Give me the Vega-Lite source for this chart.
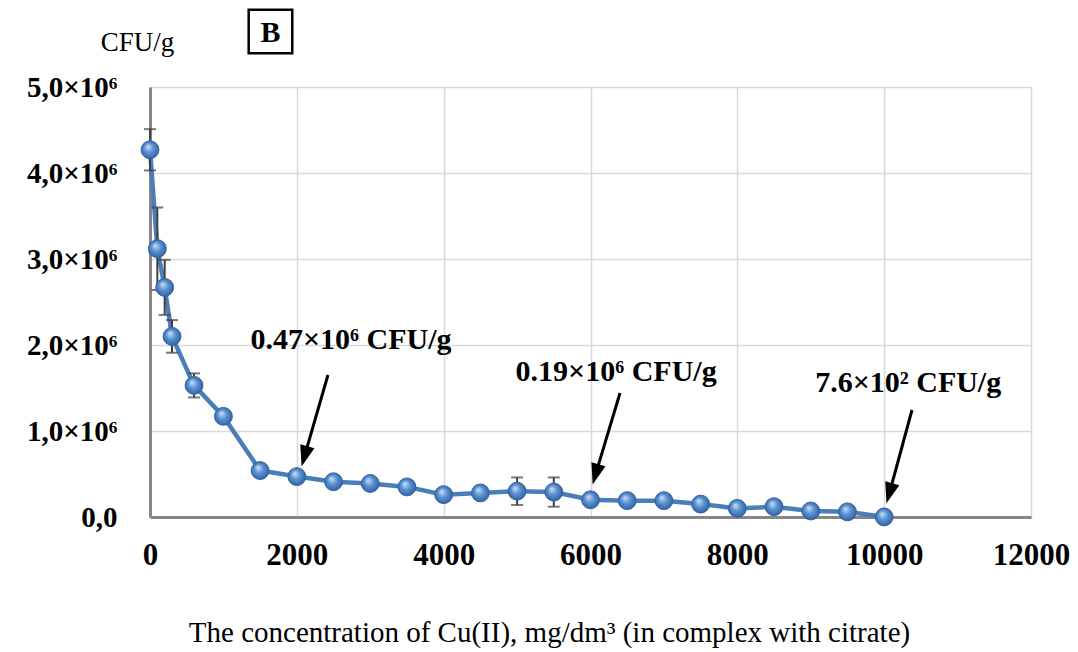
{
  "$schema": "https://vega.github.io/schema/vega-lite/v6.json",
  "width": 881,
  "height": 430,
  "autosize": {"type": "none"},
  "padding": {"left": 150, "top": 87, "right": 47, "bottom": 135},
  "background": "white",
  "config": {"view": {"stroke": null}, "font": "Liberation Serif"},
  "datasets": {
    "main": [
      {"conc": 0, "cfu": 4270000, "err": 240000},
      {"conc": 100, "cfu": 3120000, "err": 480000},
      {"conc": 200, "cfu": 2670000, "err": 320000},
      {"conc": 300, "cfu": 2100000, "err": 190000},
      {"conc": 600, "cfu": 1530000, "err": 140000},
      {"conc": 1000, "cfu": 1170000, "err": 0},
      {"conc": 1500, "cfu": 540000, "err": 0},
      {"conc": 2000, "cfu": 470000, "err": 0},
      {"conc": 2500, "cfu": 410000, "err": 0},
      {"conc": 3000, "cfu": 390000, "err": 0},
      {"conc": 3500, "cfu": 350000, "err": 0},
      {"conc": 4000, "cfu": 260000, "err": 0},
      {"conc": 4500, "cfu": 280000, "err": 0},
      {"conc": 5000, "cfu": 300000, "err": 160000},
      {"conc": 5500, "cfu": 290000, "err": 170000},
      {"conc": 6000, "cfu": 200000, "err": 0},
      {"conc": 6500, "cfu": 190000, "err": 0},
      {"conc": 7000, "cfu": 190000, "err": 0},
      {"conc": 7500, "cfu": 150000, "err": 0},
      {"conc": 8000, "cfu": 100000, "err": 0},
      {"conc": 8500, "cfu": 120000, "err": 0},
      {"conc": 9000, "cfu": 70000, "err": 0},
      {"conc": 9500, "cfu": 60000, "err": 0},
      {"conc": 10000, "cfu": 760, "err": 0}
    ],
    "notes": [
      {"conc": 2738, "cfu": 2060000, "label": "0.47×10⁶ CFU/g"},
      {"conc": 6349, "cfu": 1690000, "label": "0.19×10⁶ CFU/g"},
      {"conc": 10327, "cfu": 1560000, "label": "7.6×10² CFU/g"}
    ],
    "arrows": [
      {"conc": 2424, "cfu": 1651000, "conc2": 2104, "cfu2": 705000},
      {"conc": 6402, "cfu": 1442000, "conc2": 6069, "cfu2": 495000},
      {"conc": 10379, "cfu": 1244000, "conc2": 10071, "cfu2": 276000}
    ],
    "heads": [
      {"conc": 2104, "cfu": 705000},
      {"conc": 6069, "cfu": 495000},
      {"conc": 10071, "cfu": 276000}
    ],
    "panel": [
      {"conc": 1641, "cfu": 5645000, "label": "B"}
    ]
  },
  "layer": [
    {
      "data": {"name": "main"},
      "mark": {"type": "line", "color": "#4a7ebb", "strokeWidth": 4.5},
      "encoding": {
        "x": {
          "field": "conc", "type": "quantitative",
          "scale": {"domain": [0, 12000], "nice": false},
          "axis": {
            "values": [0, 2000, 4000, 6000, 8000, 10000, 12000],
            "format": "d",
            "title": "The concentration of Cu(II), mg/dm³ (in complex with citrate)",
            "titleFont": "Liberation Serif", "titleFontSize": 29, "titleFontWeight": "normal", "titleColor": "black",
            "titleX": 399, "titleY": 115, "titleAnchor": "middle", "titleAlign": "center", "titleBaseline": "middle",
            "labelFont": "Liberation Serif", "labelFontSize": 31, "labelFontWeight": "bold", "labelColor": "black",
            "labelPadding": 23, "ticks": false,
            "domainColor": "#868686", "domainWidth": 3,
            "grid": true, "gridColor": "#d9d9d9", "gridWidth": 1.5,
            "labelFlush": false, "labelOverlap": false
          }
        },
        "y": {
          "field": "cfu", "type": "quantitative",
          "scale": {"domain": [0, 5000000], "nice": false},
          "title": "CFU/g",
          "axis": {
            "values": [0, 1000000, 2000000, 3000000, 4000000, 5000000],
            "labelExpr": "datum.value == 0 ? '0,0' : replace(format(datum.value / 1000000, '.1f'), '.', ',') + '×10⁶'",
            "titleFont": "Liberation Serif", "titleFontSize": 27, "titleFontWeight": "normal", "titleColor": "black",
            "titleAngle": 0, "titleX": -13, "titleY": -45, "titleAlign": "center", "titleBaseline": "middle",
            "labelFont": "Liberation Serif", "labelFontSize": 29, "labelFontWeight": "bold", "labelColor": "black",
            "labelPadding": 33, "ticks": false,
            "domainColor": "#868686", "domainWidth": 3,
            "grid": true, "gridColor": "#d9d9d9", "gridWidth": 1.5,
            "labelFlush": false, "labelOverlap": false
          }
        }
      }
    },
    {
      "data": {"name": "main"},
      "transform": [{"filter": "datum.err > 0"}],
      "mark": {"type": "errorbar", "color": "#404040", "thickness": 2, "ticks": {"size": 12, "color": "#404040", "thickness": 2}},
      "encoding": {
        "x": {"field": "conc", "type": "quantitative"},
        "y": {"field": "cfu", "type": "quantitative", "title": "CFU/g"},
        "yError": {"field": "err"}
      }
    },
    {
      "data": {"name": "main"},
      "mark": {
        "type": "point", "shape": "circle", "filled": true, "size": 320, "opacity": 1,
        "fill": {"gradient": "radial", "x1": 0.38, "y1": 0.32, "r1": 0.02, "x2": 0.5, "y2": 0.5, "r2": 0.55,
          "stops": [{"offset": 0, "color": "#c4dcf5"}, {"offset": 0.45, "color": "#5d93d3"}, {"offset": 1, "color": "#2c5c9a"}]},
        "stroke": "#3465a4", "strokeWidth": 1
      },
      "encoding": {
        "x": {"field": "conc", "type": "quantitative"},
        "y": {"field": "cfu", "type": "quantitative", "title": "CFU/g"}
      }
    },
    {
      "data": {"name": "arrows"},
      "mark": {"type": "rule", "color": "black", "strokeWidth": 3},
      "encoding": {
        "x": {"field": "conc", "type": "quantitative"},
        "y": {"field": "cfu", "type": "quantitative", "title": "CFU/g"},
        "x2": {"field": "conc2"},
        "y2": {"field": "cfu2"}
      }
    },
    {
      "data": {"name": "heads"},
      "mark": {"type": "point", "shape": "M0,-1L0.7,1L-0.7,1Z", "filled": true, "color": "black", "opacity": 1, "size": 440, "angle": 196},
      "encoding": {
        "x": {"field": "conc", "type": "quantitative"},
        "y": {"field": "cfu", "type": "quantitative", "title": "CFU/g"}
      }
    },
    {
      "data": {"name": "notes"},
      "mark": {"type": "text", "font": "Liberation Serif", "fontSize": 30, "fontWeight": "bold", "color": "black", "align": "center", "baseline": "middle"},
      "encoding": {
        "x": {"field": "conc", "type": "quantitative"},
        "y": {"field": "cfu", "type": "quantitative", "title": "CFU/g"},
        "text": {"field": "label"}
      }
    },
    {
      "data": {"name": "panel"},
      "mark": {"type": "point", "shape": "square", "filled": false, "stroke": "black", "strokeWidth": 2.5, "size": 1900, "opacity": 1},
      "encoding": {
        "x": {"field": "conc", "type": "quantitative"},
        "y": {"field": "cfu", "type": "quantitative", "title": "CFU/g"}
      }
    },
    {
      "data": {"name": "panel"},
      "mark": {"type": "text", "font": "Liberation Serif", "fontSize": 30, "fontWeight": "bold", "color": "black", "align": "center", "baseline": "middle", "dy": 1},
      "encoding": {
        "x": {"field": "conc", "type": "quantitative"},
        "y": {"field": "cfu", "type": "quantitative", "title": "CFU/g"},
        "text": {"field": "label"}
      }
    }
  ]
}
